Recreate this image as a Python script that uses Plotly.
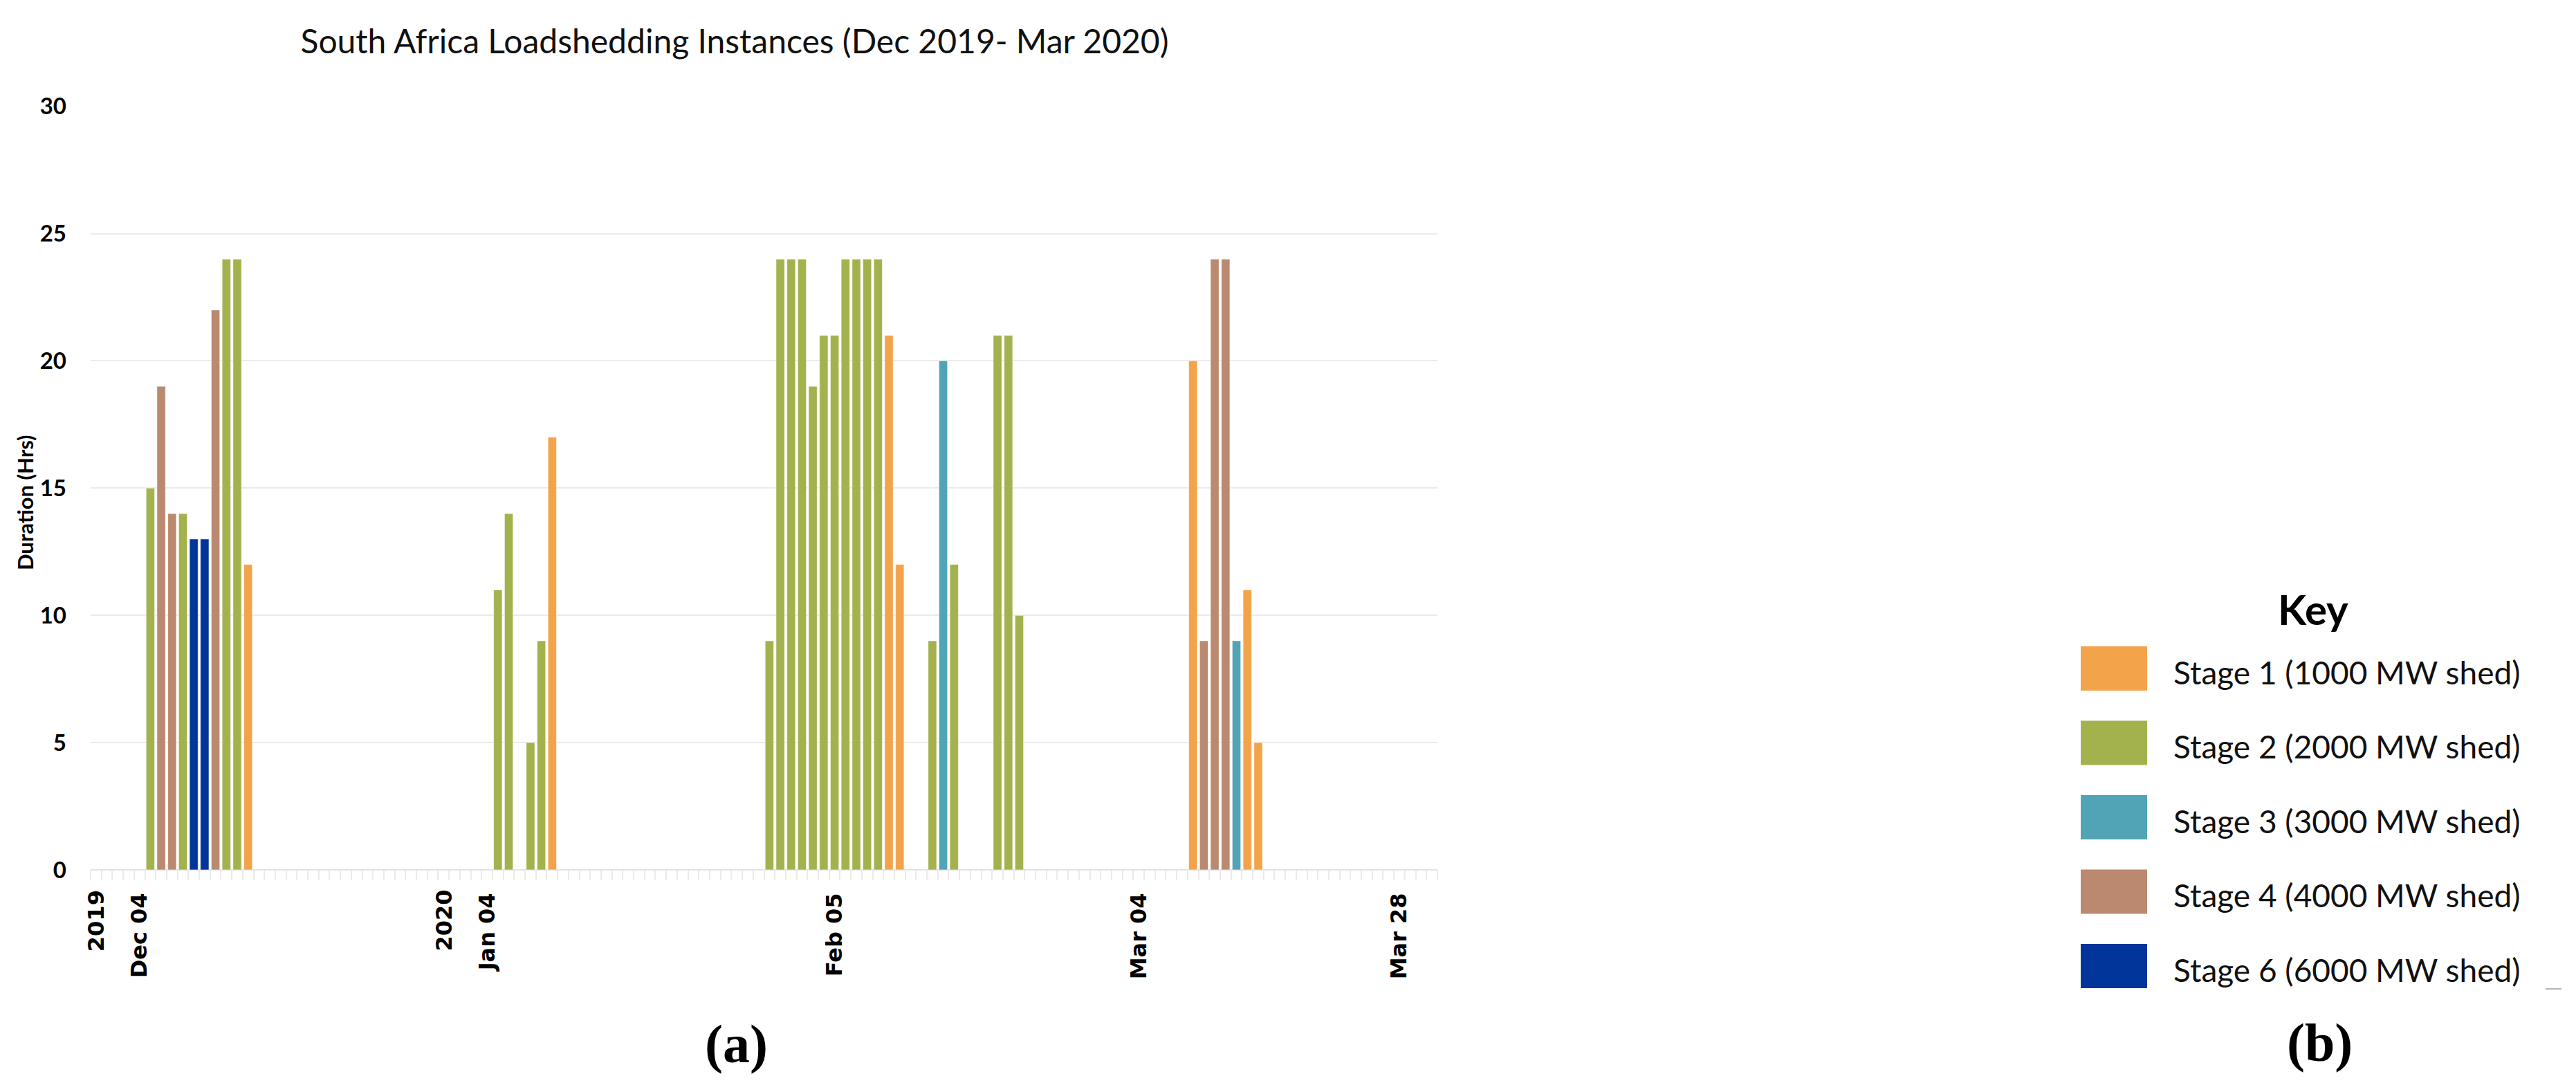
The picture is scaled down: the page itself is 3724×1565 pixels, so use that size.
import plotly.graph_objects as go

# ---------------- data ----------------
dates = [
    "2019-12-04", "2019-12-05", "2019-12-06", "2019-12-07", "2019-12-08",
    "2019-12-09", "2019-12-10", "2019-12-11", "2019-12-12", "2019-12-13",
    "2020-01-05", "2020-01-06", "2020-01-08", "2020-01-09", "2020-01-10",
    "2020-01-30", "2020-01-31", "2020-02-01", "2020-02-02", "2020-02-03",
    "2020-02-04", "2020-02-05", "2020-02-06", "2020-02-07", "2020-02-08",
    "2020-02-09", "2020-02-10", "2020-02-11",
    "2020-02-14", "2020-02-15", "2020-02-16",
    "2020-02-20", "2020-02-21", "2020-02-22",
    "2020-03-09", "2020-03-10", "2020-03-11", "2020-03-12", "2020-03-13",
    "2020-03-14", "2020-03-15",
]
hours = [
    15, 19, 14, 14, 13, 13, 22, 24, 24, 12,
    11, 14, 5, 9, 17,
    9, 24, 24, 24, 19, 21, 21, 24, 24, 24, 24, 21, 12,
    9, 20, 12,
    21, 21, 10,
    20, 9, 24, 24, 9, 11, 5,
]
stage = [
    2, 4, 4, 2, 6, 6, 4, 2, 2, 1,
    2, 2, 2, 2, 1,
    2, 2, 2, 2, 2, 2, 2, 2, 2, 2, 2, 1, 1,
    2, 3, 2,
    2, 2, 2,
    1, 4, 4, 4, 3, 1, 1,
]

stage_ids = [1, 2, 3, 4, 6]
stage_labels = [
    "Stage 1 (1000 MW shed)",
    "Stage 2 (2000 MW shed)",
    "Stage 3 (3000 MW shed)",
    "Stage 4 (4000 MW shed)",
    "Stage 6 (6000 MW shed)",
]
stage_colors = ["#F3A44B", "#A4B24E", "#51A4B6", "#BA8970", "#01359A"]

tick_vals = ["2019-12-03", "2020-01-04", "2020-02-05", "2020-03-04", "2020-03-28"]
tick_text = ["Dec 04", "Jan 04", "Feb 05", "Mar 04", "Mar 28"]
year_vals = ["2019-12-03", "2020-01-04"]
year_text = ["2019", "2020"]

y_ticks = [0, 5, 10, 15, 20, 25, 30]

# ---------------- figure ----------------
W, H = 3724, 1565
DAY = 86400000

fig = go.Figure()
for sid, lab, col in zip(stage_ids, stage_labels, stage_colors):
    xs = [d for d, s in zip(dates, stage) if s == sid]
    ys = [h for h, s in zip(hours, stage) if s == sid]
    fig.add_trace(go.Bar(
        x=xs, y=ys, name=lab, width=0.78 * DAY,
        marker=dict(color=col, line=dict(color="rgba(255,255,255,0.55)", width=1)),
    ))

px = lambda v: v / W
py = lambda v: 1 - v / H

fig.update_layout(
    width=W, height=H, autosize=False,
    margin=dict(l=0, r=0, t=0, b=0, pad=0),
    paper_bgcolor="white", plot_bgcolor="white",
    barmode="overlay", showlegend=False,
    font=dict(family="Lato", color="black"),
    title=dict(
        text="South Africa Loadshedding Instances (Dec 2019- Mar 2020)",
        x=px(1062), xref="paper", xanchor="center",
        y=py(60), yref="container", yanchor="middle",
        font=dict(family="Lato", size=48, color="#111111"),
    ),
    xaxis=dict(
        type="date", domain=[px(131), px(2078)],
        range=["2019-11-28 12:00", "2020-03-31 12:00"],
        tickmode="array", tickvals=tick_vals, ticktext=tick_text,
        tickangle=-90, ticks="", ticklabelstandoff=26,
        tickfont=dict(family="DejaVu Sans", size=32, color="black", weight="bold"),
        showgrid=False, zeroline=False, showline=False, automargin=False,
        minor=dict(ticks="outside", ticklen=14, tickwidth=1.5, tickcolor="#ebebeb",
                   tickmode="linear", tick0="2019-11-28 12:00", dtick=DAY, showgrid=False),
    ),
    yaxis=dict(
        domain=[py(1257), py(153)], range=[0, 30.02],
        tickmode="array", tickvals=y_ticks,
        ticks="", ticklabelstandoff=34,
        tickfont=dict(family="Lato", size=33, color="black", weight="bold"),
        showgrid=True, gridcolor="#ebebeb", gridwidth=1.5,
        zeroline=True, zerolinecolor="#e4e4e4", zerolinewidth=2,
        showline=False, automargin=False,
    ),
)

annotations = []
# y axis title
annotations.append(dict(
    text="Duration (Hrs)", textangle=-90, xref="paper", yref="paper",
    x=px(36), y=py(726), xanchor="center", yanchor="middle", showarrow=False,
    font=dict(family="Lato", size=31, color="black", weight="bold"),
))
# year labels under first ticks of each year
for yv, yt in zip(year_vals, year_text):
    annotations.append(dict(
        text=yt, textangle=-90, xref="x", yref="paper", x=yv, xshift=-63,
        y=py(1284), xanchor="center", yanchor="top", showarrow=False,
        font=dict(family="DejaVu Sans", size=32, color="black", weight="bold"),
    ))
# panel labels
annotations.append(dict(
    text="(a)", xref="paper", yref="paper", x=px(1064), y=py(1508),
    xanchor="center", yanchor="middle", showarrow=False,
    font=dict(family="Liberation Serif", size=78, color="black", weight="bold"),
))
annotations.append(dict(
    text="(b)", xref="paper", yref="paper", x=px(3353), y=py(1506),
    xanchor="center", yanchor="middle", showarrow=False,
    font=dict(family="Liberation Serif", size=78, color="black", weight="bold"),
))
# legend key
annotations.append(dict(
    text="Key", xref="paper", yref="paper", x=px(3344), y=py(880),
    xanchor="center", yanchor="middle", showarrow=False,
    font=dict(family="Lato", size=60, color="black", weight="bold"),
))
shapes = []
for i, (lab, col) in enumerate(zip(stage_labels, stage_colors)):
    cy = 966 + i * 107.5
    shapes.append(dict(
        type="rect", xref="paper", yref="paper",
        x0=px(3008), x1=px(3104), y0=py(cy + 32), y1=py(cy - 32),
        fillcolor=col, line=dict(width=0),
    ))
    annotations.append(dict(
        text=lab, xref="paper", yref="paper", x=px(3140), y=py(cy + 5),
        xanchor="left", yanchor="middle", showarrow=False,
        font=dict(family="Lato", size=46, color="#111111"),
    ))
# small stray mark at right edge of the source figure
shapes.append(dict(type="line", xref="paper", yref="paper",
                   x0=px(3680), x1=px(3703), y0=py(1429), y1=py(1429),
                   line=dict(color="#b5b5b5", width=2)))

fig.update_layout(annotations=annotations, shapes=shapes)

fig.write_html(
    "out.html",
    config={"displayModeBar": False},
    post_script="document.body.style.margin='0';document.body.style.overflow='hidden';",
)
